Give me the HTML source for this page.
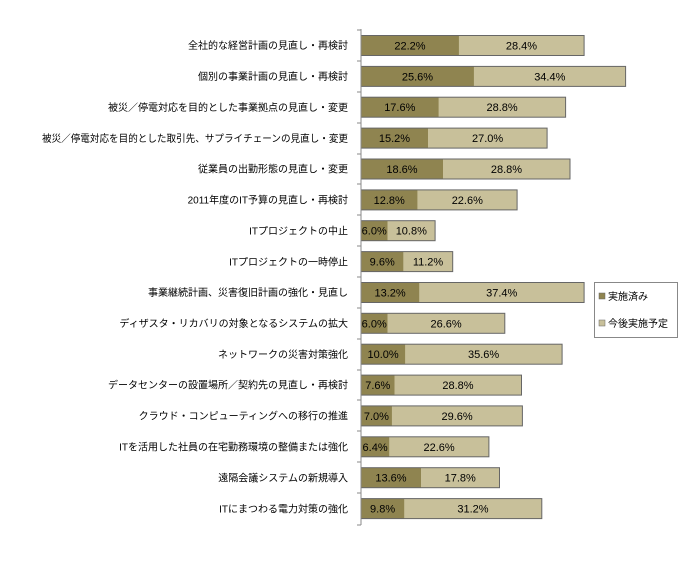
<!DOCTYPE html>
<html><head><meta charset="utf-8"><style>
body{margin:0;background:#fff}
svg text{font-family:"Liberation Sans","Noto Sans CJK JP",sans-serif;font-size:11px;fill:#000}
.d{fill:#8f8450}.l{fill:#c8c09a}.o{fill:none;stroke:#666}
.m{text-anchor:middle}.e{text-anchor:end;font-size:10px !important}
</style></head><body>
<svg width="691" height="576" xmlns="http://www.w3.org/2000/svg">
<g>
<rect class="l" x="361" y="35.5" width="223.1" height="20"/><rect class="d" x="361" y="35.5" width="97.9" height="20"/><rect class="o" x="361" y="35.5" width="223.1" height="20"/>
<text class="m" x="410" y="49.5">22.2%</text><text class="m" x="521.5" y="49.5">28.4%</text><text class="e" x="348" y="49">全社的な経営計画の見直し・再検討</text>

<rect class="l" x="361" y="66.4" width="264.6" height="20"/><rect class="d" x="361" y="66.4" width="112.9" height="20"/><rect class="o" x="361" y="66.4" width="264.6" height="20"/>
<text class="m" x="417.5" y="80.4">25.6%</text><text class="m" x="549.8" y="80.4">34.4%</text><text class="e" x="348" y="80">個別の事業計画の見直し・再検討</text>

<rect class="l" x="361" y="97.2" width="204.6" height="20"/><rect class="d" x="361" y="97.2" width="77.6" height="20"/><rect class="o" x="361" y="97.2" width="204.6" height="20"/>
<text class="m" x="399.8" y="111.2">17.6%</text><text class="m" x="502.1" y="111.2">28.8%</text><text class="e" x="348" y="111">被災／停電対応を目的とした事業拠点の見直し・変更</text>

<rect class="l" x="361" y="128.1" width="186.1" height="20"/><rect class="d" x="361" y="128.1" width="67" height="20"/><rect class="o" x="361" y="128.1" width="186.1" height="20"/>
<text class="m" x="394.5" y="142.1">15.2%</text><text class="m" x="487.6" y="142.1">27.0%</text><text class="e" x="348" y="142" textLength="306" lengthAdjust="spacingAndGlyphs">被災／停電対応を目的とした取引先、サプライチェーンの見直し・変更</text>

<rect class="l" x="361" y="159" width="209" height="20"/><rect class="d" x="361" y="159" width="82" height="20"/><rect class="o" x="361" y="159" width="209" height="20"/>
<text class="m" x="402" y="173">18.6%</text><text class="m" x="506.5" y="173">28.8%</text><text class="e" x="348" y="172.5">従業員の出勤形態の見直し・変更</text>

<rect class="l" x="361" y="189.9" width="156.1" height="20"/><rect class="d" x="361" y="189.9" width="56.4" height="20"/><rect class="o" x="361" y="189.9" width="156.1" height="20"/>
<text class="m" x="389.2" y="203.9">12.8%</text><text class="m" x="467.3" y="203.9">22.6%</text><text class="e" x="348" y="203.5">2011年度のIT予算の見直し・再検討</text>

<rect class="l" x="361" y="220.7" width="74.1" height="20"/><rect class="d" x="361" y="220.7" width="26.5" height="20"/><rect class="o" x="361" y="220.7" width="74.1" height="20"/>
<text class="m" x="374.2" y="234.7">6.0%</text><text class="m" x="411.3" y="234.7">10.8%</text><text class="e" x="348" y="234.5">ITプロジェクトの中止</text>

<rect class="l" x="361" y="251.6" width="91.7" height="20"/><rect class="d" x="361" y="251.6" width="42.3" height="20"/><rect class="o" x="361" y="251.6" width="91.7" height="20"/>
<text class="m" x="382.2" y="265.6">9.6%</text><text class="m" x="428" y="265.6">11.2%</text><text class="e" x="348" y="265.5">ITプロジェクトの一時停止</text>

<rect class="l" x="361" y="282.5" width="223.1" height="20"/><rect class="d" x="361" y="282.5" width="58.2" height="20"/><rect class="o" x="361" y="282.5" width="223.1" height="20"/>
<text class="m" x="390.1" y="296.5">13.2%</text><text class="m" x="501.7" y="296.5">37.4%</text><text class="e" x="348" y="296">事業継続計画、災害復旧計画の強化・見直し</text>

<rect class="l" x="361" y="313.3" width="143.8" height="20"/><rect class="d" x="361" y="313.3" width="26.5" height="20"/><rect class="o" x="361" y="313.3" width="143.8" height="20"/>
<text class="m" x="374.2" y="327.3">6.0%</text><text class="m" x="446.1" y="327.3">26.6%</text><text class="e" x="348" y="327">ディザスタ・リカバリの対象となるシステムの拡大</text>

<rect class="l" x="361" y="344.2" width="201.1" height="20"/><rect class="d" x="361" y="344.2" width="44.1" height="20"/><rect class="o" x="361" y="344.2" width="201.1" height="20"/>
<text class="m" x="383.1" y="358.2">10.0%</text><text class="m" x="483.6" y="358.2">35.6%</text><text class="e" x="348" y="358">ネットワークの災害対策強化</text>

<rect class="l" x="361" y="375.1" width="160.5" height="20"/><rect class="d" x="361" y="375.1" width="33.5" height="20"/><rect class="o" x="361" y="375.1" width="160.5" height="20"/>
<text class="m" x="377.8" y="389.1">7.6%</text><text class="m" x="458" y="389.1">28.8%</text><text class="e" x="348" y="388.5">データセンターの設置場所／契約先の見直し・再検討</text>

<rect class="l" x="361" y="405.9" width="161.4" height="20"/><rect class="d" x="361" y="405.9" width="30.9" height="20"/><rect class="o" x="361" y="405.9" width="161.4" height="20"/>
<text class="m" x="376.4" y="419.9">7.0%</text><text class="m" x="457.1" y="419.9">29.6%</text><text class="e" x="348" y="419.5">クラウド・コンピューティングへの移行の推進</text>

<rect class="l" x="361" y="436.8" width="127.9" height="20"/><rect class="d" x="361" y="436.8" width="28.2" height="20"/><rect class="o" x="361" y="436.8" width="127.9" height="20"/>
<text class="m" x="375.1" y="450.8">6.4%</text><text class="m" x="439.1" y="450.8">22.6%</text><text class="e" x="348" y="450.5">ITを活用した社員の在宅勤務環境の整備または強化</text>

<rect class="l" x="361" y="467.7" width="138.5" height="20"/><rect class="d" x="361" y="467.7" width="60" height="20"/><rect class="o" x="361" y="467.7" width="138.5" height="20"/>
<text class="m" x="391" y="481.7">13.6%</text><text class="m" x="460.2" y="481.7">17.8%</text><text class="e" x="348" y="481.5">遠隔会議システムの新規導入</text>

<rect class="l" x="361" y="498.6" width="180.8" height="20"/><rect class="d" x="361" y="498.6" width="43.2" height="20"/><rect class="o" x="361" y="498.6" width="180.8" height="20"/>
<text class="m" x="382.6" y="512.6">9.8%</text><text class="m" x="473" y="512.6">31.2%</text><text class="e" x="348" y="512.5">ITにまつわる電力対策の強化</text>
</g>
<g stroke="#888">
<line x1="361" y1="29" x2="361" y2="525"/>
<line x1="357" y1="30" x2="361" y2="30"/><line x1="357" y1="61" x2="361" y2="61"/><line x1="357" y1="92" x2="361" y2="92"/><line x1="357" y1="123" x2="361" y2="123"/><line x1="357" y1="154" x2="361" y2="154"/><line x1="357" y1="184" x2="361" y2="184"/><line x1="357" y1="215" x2="361" y2="215"/><line x1="357" y1="246" x2="361" y2="246"/><line x1="357" y1="277" x2="361" y2="277"/><line x1="357" y1="308" x2="361" y2="308"/><line x1="357" y1="339" x2="361" y2="339"/><line x1="357" y1="370" x2="361" y2="370"/><line x1="357" y1="400" x2="361" y2="400"/><line x1="357" y1="431" x2="361" y2="431"/><line x1="357" y1="462" x2="361" y2="462"/><line x1="357" y1="493" x2="361" y2="493"/><line x1="357" y1="525" x2="361" y2="525"/>
</g>
<rect x="594.5" y="282.5" width="83" height="55" fill="#fff" stroke="#888"/>
<rect x="599" y="293" width="6" height="6" fill="#8f8450" stroke="#666" stroke-width="0.5"/>
<text x="608" y="300" style="font-size:10px">実施済み</text>
<rect x="599" y="320" width="6" height="6" fill="#c8c09a" stroke="#666" stroke-width="0.5"/>
<text x="608" y="327" style="font-size:10px">今後実施予定</text>
</svg>
</body></html>
